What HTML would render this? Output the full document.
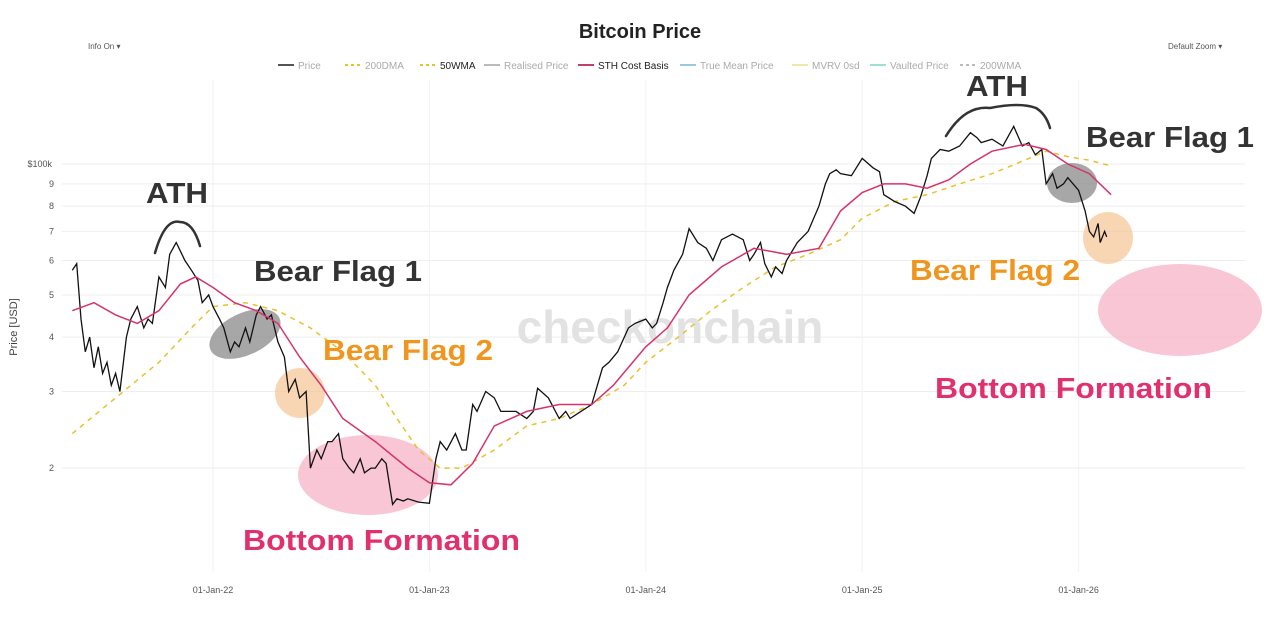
<!DOCTYPE html>
<html><head><meta charset="utf-8"><style>
body{margin:0;background:#fff;width:1280px;height:621px;overflow:hidden;font-family:"Liberation Sans",sans-serif}
</style></head><body>
<svg id="chart" width="1280" height="621" xmlns="http://www.w3.org/2000/svg" font-family="Liberation Sans, sans-serif">
<text x="640" y="38" text-anchor="middle" font-size="20" font-weight="bold" fill="#222">Bitcoin Price</text>
<text x="88" y="49" font-size="8" fill="#555">Info On  ▾</text>
<text x="1168" y="49" font-size="8" fill="#555">Default Zoom  ▾</text>
<g id="legend" font-size="10"></g>
<g id="grid"></g>
<text x="670" y="343" text-anchor="middle" font-size="46" font-weight="bold" fill="#e2e2e2">checkonchain</text>
<g id="shapes"></g>
<g id="series"></g>
<g id="annot"></g>
<text transform="translate(17,327) rotate(-90)" text-anchor="middle" font-size="11" fill="#444">Price [USD]</text>
</svg>
<script>
const yTicks=[20,30,40,50,60,70,80,90,100];
const yTickLabels=["2","3","4","5","6","7","8","9","$100k"];
const xTicks=[2022,2023,2024,2025,2026];
const xTickLabels=["01-Jan-22","01-Jan-23","01-Jan-24","01-Jan-25","01-Jan-26"];
const priceDates=[2021.35,2021.37,2021.39,2021.41,2021.43,2021.45,2021.47,2021.49,2021.51,2021.53,2021.55,2021.57,2021.6,2021.62,2021.65,2021.68,2021.7,2021.72,2021.75,2021.78,2021.8,2021.83,2021.85,2021.87,2021.9,2021.93,2021.95,2021.98,2022.0,2022.03,2022.05,2022.08,2022.1,2022.12,2022.15,2022.17,2022.2,2022.22,2022.25,2022.27,2022.3,2022.33,2022.35,2022.38,2022.4,2022.43,2022.45,2022.48,2022.5,2022.53,2022.55,2022.58,2022.6,2022.63,2022.65,2022.68,2022.7,2022.73,2022.75,2022.78,2022.8,2022.83,2022.85,2022.88,2022.9,2022.95,2023.0,2023.03,2023.05,2023.08,2023.12,2023.15,2023.17,2023.2,2023.22,2023.26,2023.3,2023.33,2023.35,2023.4,2023.45,2023.48,2023.5,2023.55,2023.6,2023.63,2023.65,2023.7,2023.75,2023.8,2023.83,2023.87,2023.92,2023.95,2024.0,2024.03,2024.05,2024.08,2024.1,2024.13,2024.17,2024.2,2024.24,2024.28,2024.31,2024.35,2024.4,2024.45,2024.48,2024.5,2024.53,2024.55,2024.58,2024.6,2024.63,2024.65,2024.7,2024.75,2024.8,2024.83,2024.85,2024.88,2024.9,2024.95,2025.0,2025.05,2025.08,2025.1,2025.15,2025.2,2025.24,2025.27,2025.3,2025.32,2025.36,2025.4,2025.45,2025.5,2025.53,2025.55,2025.6,2025.65,2025.7,2025.74,2025.77,2025.8,2025.83,2025.85,2025.88,2025.9,2025.93,2025.95,2026.0,2026.03,2026.05,2026.07,2026.09,2026.1,2026.12,2026.13,2026.15,2026.17];
const priceValues=[57,59,44,37,40,34,38,33,35,31,33,30,40,44,47,42,44,43,55,52,62,66,63,60,57,54,48,50,47,44,42,37,39,38,42,39,45,47,44,45,39,36,30,32,29,30,20,22,21,23,23,24,21,20,19.5,21,19.5,20,20,21,20.5,16.5,17,16.8,17,16.7,16.6,21,23,22,24,22,22,28,27,30,29,27,27,27,26,27,30.5,29,26,27,26,27,28,34,35,37,42,43,44,42,43,48,52,57,62,71,66,64,60,67,69,67,60,62,66,59,55,58,56,60,66,70,80,90,95,97,95,94,103,98,96,85,82,80,77,84,94,103,108,107,110,118,115,112,114,110,122,110,112,105,108,90,95,88,90,93,87,78,70,68,73,66,70,68];
const sthDates=[2021.35,2021.45,2021.55,2021.65,2021.75,2021.85,2021.92,2022.0,2022.1,2022.2,2022.3,2022.4,2022.5,2022.6,2022.75,2022.9,2023.0,2023.1,2023.2,2023.3,2023.45,2023.6,2023.75,2023.85,2024.0,2024.1,2024.2,2024.35,2024.5,2024.65,2024.8,2024.9,2025.0,2025.1,2025.2,2025.3,2025.4,2025.5,2025.6,2025.75,2025.85,2025.95,2026.05,2026.15];
const sthValues=[46,48,45,43,46,53,55,52,48,46,43,36,31,26,23,20,18.5,18.3,20.5,25,27,28,28,31,38,42,50,58,64,62,64,78,86,90,90,88,92,100,107,111,108,100,95,85];
const dmaDates=[2021.35,2021.55,2021.75,2021.9,2022.0,2022.15,2022.3,2022.45,2022.6,2022.75,2022.85,2022.95,2023.05,2023.15,2023.3,2023.45,2023.6,2023.75,2023.9,2024.0,2024.15,2024.3,2024.45,2024.6,2024.75,2024.9,2025.0,2025.15,2025.3,2025.45,2025.6,2025.75,2025.85,2025.95,2026.05,2026.15];
const dmaValues=[24,29,35,42,47,48,46,42,37,31,26,22,20,20,22,25,26,28,31,35,40,46,52,58,62,67,75,82,85,90,95,102,107,104,102,99];

const NS="http://www.w3.org/2000/svg";
const X0=62,X1=1245;
const xs=d=>213+(d-2022)*216.4;
const ys=v=>164-Math.log10(v/100)*435;
function el(t,a,p){const e=document.createElementNS(NS,t);for(const k in a)e.setAttribute(k,a[k]);p.appendChild(e);return e;}
const grid=document.getElementById('grid');
yTicks.forEach((v,i)=>{
 const l=el('line',{x1:X0,x2:X1,y1:ys(v),y2:ys(v),stroke:'#eee'},grid);
 
 
 const t=el('text',{x:i==8?52:54,y:ys(v)+3,'text-anchor':'end','font-size':9,fill:'#555'},grid);
 t.textContent=yTickLabels[i];
 
 
});
xTicks.forEach((d,i)=>{
 const l=el('line',{x1:xs(d),x2:xs(d),y1:80,y2:572,stroke:'#f2f2f2'},grid);
 
 
 const t=el('text',{x:xs(d),y:593,'text-anchor':'middle','font-size':9,fill:'#555'},grid);
 t.textContent=xTickLabels[i];
 
 
});
const shapes=document.getElementById('shapes');
[[245,334,38,21,-25,'#8a8a8a',.75],[300,393,25,25,0,'#f6c08a',.65],[368,475,70,40,0,'#f5b3c6',.75],[1072,183,25,20,0,'#8a8a8a',.75],[1108,238,25,26,0,'#f6c08a',.65],[1180,310,82,46,0,'#f5b3c6',.75]].forEach(s=>{
 const e=el('ellipse',{cx:s[0],cy:s[1],rx:s[2],ry:s[3],fill:s[5],opacity:s[6],transform:`rotate(${s[4]} ${s[0]} ${s[1]})`},shapes);
 
 
});
const ser=document.getElementById('series');
function line(dates,vals,attrs,name){
 const d=dates.map((x,i)=>(i?'L':'M')+xs(x).toFixed(1)+','+ys(vals[i]).toFixed(1)).join('');
 const p=el('path',Object.assign({d,fill:'none'},attrs),ser);
 
 
}
line(dmaDates,dmaValues,{stroke:'#e8c12c','stroke-width':1.5,'stroke-dasharray':'5,5'},'200dma-line');
line(priceDates,priceValues,{stroke:'#111','stroke-width':1.3},'price-line');
line(sthDates,sthValues,{stroke:'#d6336c','stroke-width':1.5},'sth-cost-basis-line');
const an=document.getElementById('annot');
[['ATH',146,203,'#333',62],['Bear Flag 1',254,281,'#333',168],['Bear Flag 2',323,360,'#f0961e',170],['Bottom Formation',243,550,'#e0306e',277],['ATH',966,96,'#333',62],['Bear Flag 1',1086,147,'#333',168],['Bear Flag 2',910,280,'#f0961e',170],['Bottom Formation',935,398,'#e0306e',277]].forEach(a=>{
 const t=el('text',{x:a[1],y:a[2],'font-size':29,'font-weight':'bold',fill:a[3],textLength:a[4],lengthAdjust:'spacingAndGlyphs'},an);
 t.textContent=a[0];
 
 
});
['M155,253 Q165,218 180,222 Q193,222 200,246','M946,136 Q965,105 990,108 Q1020,102 1036,108 Q1046,114 1050,128'].forEach(d=>{
 const p=el('path',{d,fill:'none',stroke:'#333','stroke-width':2.5,'stroke-linecap':'round'},an);
 
 
});
const lg=document.getElementById('legend');
const legItems=[['Price','#555','',0.5],['200DMA','#e8c12c','3,3',0.4],['50WMA','#e8c12c','3,3',0.9],['Realised Price','#bbb','',0.4],['STH Cost Basis','#c0406b','',0.9],['True Mean Price','#9cc9e0','',0.4],['MVRV 0sd','#eee7a8','',0.4],['Vaulted Price','#9de0d4','',0.4],['200WMA','#bbb','3,3',0.4]];
const legX=[278,345,420,484,578,680,792,870,960];
legItems.forEach((it,i)=>{
 const g=el('g',{},lg);
 
 
 el('line',{x1:legX[i],x2:legX[i]+16,y1:65,y2:65,stroke:it[1],'stroke-width':2,'stroke-dasharray':it[2]},g);
 const t=el('text',{x:legX[i]+20,y:69,'font-size':10,fill:it[3]>0.5?'#222':'#aaa'},g);
 t.textContent=it[0];
});
</script>
</body></html>
